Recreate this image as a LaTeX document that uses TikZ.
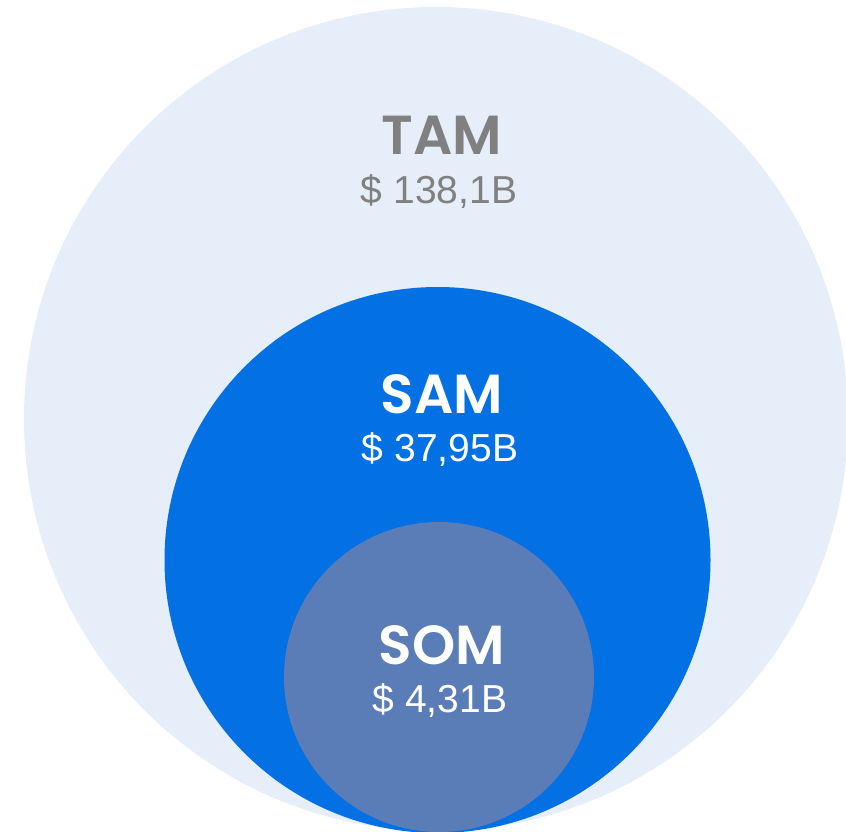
\documentclass[tikz,border=0pt]{standalone}
\usepackage{fontspec}
\usepackage{xcolor}
\usetikzlibrary{positioning}
\newfontfamily\headfont{Poppins SemiBold}
\newfontfamily\valfont{Liberation Sans}
\definecolor{tamfill}{HTML}{E6EEFA}
\definecolor{samfill}{HTML}{0370E3}
\definecolor{somfill}{HTML}{5A7DB8}
\definecolor{tamtext}{HTML}{808080}

\begin{document}
\begin{tikzpicture}[x=1pt, y=-1pt,
    ring/.style = {circle, inner sep=0pt, draw=none},
    head/.style = {anchor=base, font=\headfont\fontsize{55}{55}\selectfont},
    value/.style = {anchor=base, font=\valfont\fontsize{39}{39}\selectfont}]
        \useasboundingbox (0,0) rectangle (846,832);
        \clip (0,0) rectangle (846,832);

        %Kreise
        \node[ring, fill=tamfill, minimum size=824pt] (tam) at (436,419) {};
        \node[ring, fill=samfill, minimum size=546pt] (sam) at (437.5,560) {};
        \node[ring, fill=somfill, minimum size=310pt] (som) at (439,677) {};

        %Beschriftung
        \node[head, text=tamtext] (tamlbl) at (442,155) {TAM};
        \node[value, text=tamtext] (tamval) at (439,203) {\$ 138,1B};

        \node[head, text=white] (samlbl) at (442,413) {SAM};
        \node[value, text=white] (samval) at (440,461) {\$ 37,95B};

        \node[head, text=white] (somlbl) at (442,664) {SOM};
        \node[value, text=white] (somval) at (440,712) {\$ 4,31B};
    \end{tikzpicture}
\end{document}
